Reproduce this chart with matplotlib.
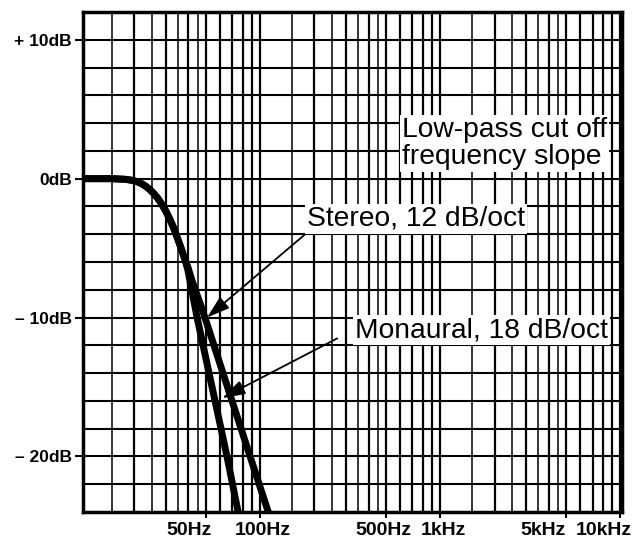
import numpy as np
import matplotlib
matplotlib.use("Agg")
import matplotlib.pyplot as plt
from matplotlib.transforms import ScaledTranslation

plt.rcParams['font.family'] = ['Liberation Sans', 'DejaVu Sans']

# response curves (Hz, dB)
knee_freq = [10, 15, 18, 19.5, 20.8, 22.0, 23.2, 24.4, 25.6, 27.0, 28.5, 30.0,
             31.5, 33.0, 34.6, 36.3, 38.0]
knee_db = [0, 0, -0.05, -0.12, -0.22, -0.36, -0.55, -0.78, -1.05, -1.4, -1.85, -2.35,
           -2.9, -3.5, -4.2, -4.95, -5.7]

mono_freq = [39.6, 41.3, 44.7, 65.5, 75.5]
mono_db = [-6.5, -7.7, -10.0, -20.0, -24.0]

stereo_freq = [39.8, 41.8, 44.2, 46.8, 49.4, 88.0, 111.0]
stereo_db = [-6.4, -7.3, -8.2, -9.1, -10.0, -20.0, -24.0]

x_ticks = [50, 100, 500, 1000, 5000, 10000]
x_labels = ['50Hz', '100Hz', '500Hz', '1kHz', '5kHz', '10kHz']
y_ticks = [10, 0, -10, -20]
y_labels = ['+ 10dB', '0dB', '\u2013 10dB', '\u2013 20dB']

fig = plt.figure(figsize=(6.33, 5.48), dpi=100)
ax = fig.add_axes([83 / 633, 1 - 512 / 548, 539 / 633, 500 / 548])
ax.set_xscale('log')
ax.set_xlim(10.4, 10200)
ax.set_ylim(-24, 12)

# graph paper grid
mant_major = [1, 2, 3, 4, 5, 6, 7, 8, 9]
mant_half = [1.5, 2.5, 3.5, 4.5]
for dec in [10, 100, 1000]:
    for m in mant_major:
        ax.axvline(m * dec, color='black', lw=1.6, zorder=1)
    for m in mant_half:
        ax.axvline(m * dec, color='black', lw=1.1, zorder=1)
ax.axvline(10000, color='black', lw=1.6, zorder=1)
for d in range(-22, 12, 2):
    ax.axhline(d, color='black', lw=1.5, zorder=1)

# curves
mono_x = knee_freq + mono_freq
mono_y = knee_db + mono_db
stereo_x = knee_freq + stereo_freq
stereo_y = knee_db + stereo_db
ax.plot(stereo_x, stereo_y, color='black', lw=5, solid_joinstyle='round', zorder=3)
ax.plot(mono_x, mono_y, color='black', lw=5, solid_joinstyle='round', zorder=3)

# annotations
box = dict(facecolor='white', edgecolor='none', pad=1.5)
ax.text(615, 2.55, 'Low-pass cut off\nfrequency slope', fontsize=20.3, ha='left', va='center',
        linespacing=1.05, bbox=box, zorder=5)
ax.text(182, -2.9, 'Stereo, 12 dB/oct', fontsize=20.3, ha='left', va='center', bbox=box, zorder=5)
ax.text(337, -10.9, 'Monaural, 18 dB/oct', fontsize=20.3, ha='left', va='center', bbox=box, zorder=5)

arrow = dict(arrowstyle='-|>,head_length=0.7,head_width=0.22', color='black', lw=1.3,
             mutation_scale=20, shrinkA=0, shrinkB=0)
ax.annotate('', xy=(50.7, -10.0), xytext=(178, -4.0), arrowprops=arrow, zorder=4)
ax.annotate('', xy=(61.6, -15.8), xytext=(268, -11.5), arrowprops=arrow, zorder=4)

# axes and ticks
for s in ax.spines.values():
    s.set_linewidth(2.5)
    s.set_zorder(6)
ax.set_xticks(x_ticks)
ax.set_xticks([], minor=True)
ax.set_xticklabels(x_labels, fontsize=14, fontweight='bold')
ax.set_yticks(y_ticks)
ax.set_yticklabels(y_labels, fontsize=12.5, fontweight='bold')
ax.tick_params(axis='x', direction='out', length=4, width=1.5, pad=3)
ax.tick_params(axis='y', direction='out', length=6, width=1.5, pad=2)

# shift some x labels sideways like the original print
offsets = [-17, 3, -3, 3, -23, -17]
for lab, dx in zip(ax.get_xticklabels(), offsets):
    lab.set_transform(lab.get_transform() + ScaledTranslation(dx / 100, 0, fig.dpi_scale_trans))

fig.savefig('out.png', dpi=100)
